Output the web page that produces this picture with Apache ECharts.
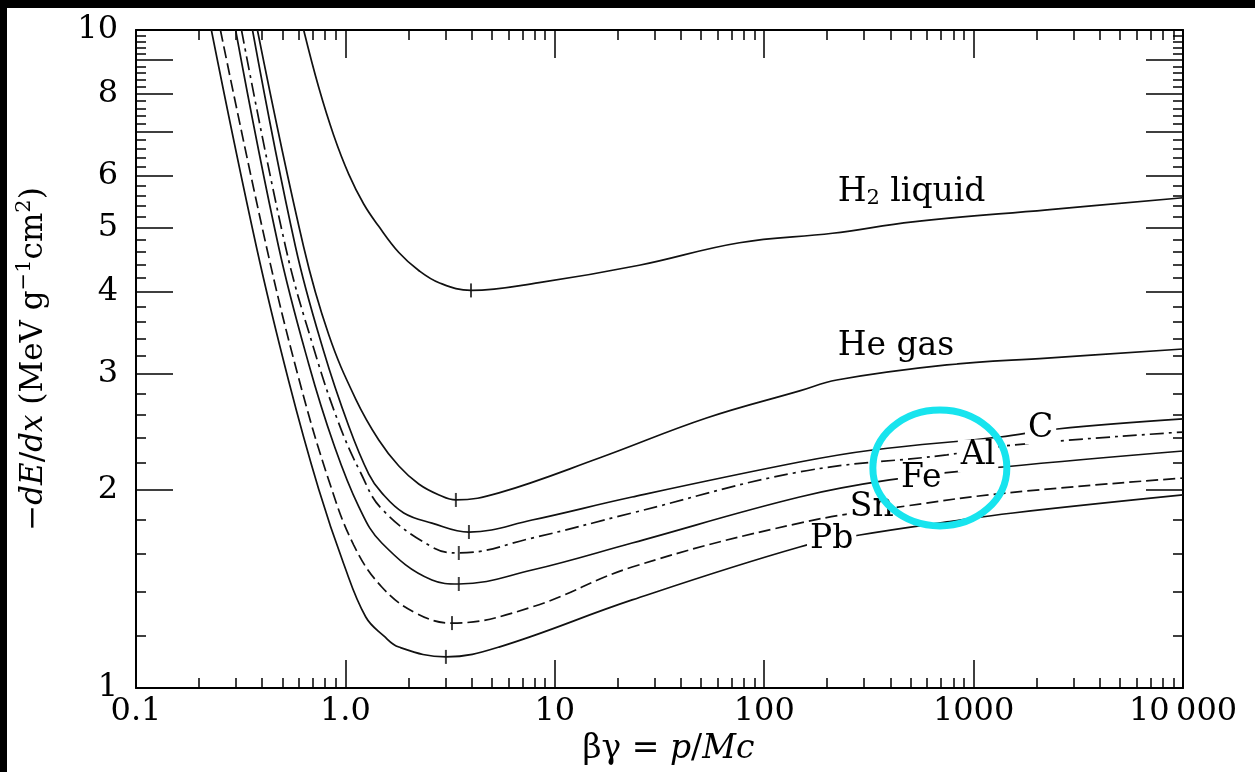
<!DOCTYPE html>
<html><head><meta charset="utf-8">
<script src="https://cdn.jsdelivr.net/npm/echarts@6/dist/echarts.min.js"></script>
<style>html,body{margin:0;padding:0;background:#fff}#c{width:1255px;height:772px}</style>
</head><body><div id="c"></div><script>
// ---- data (βγ , -dE/dx) ----
const h2Liquid=[[0.632,10],[0.745,8.19],[0.879,6.92],[1.037,6.04],[1.223,5.44],[1.443,5.03],[1.80,4.59],[2.24,4.31],[2.80,4.13],[3.98,4.02],[8.41,4.13],[25.3,4.39],[76.2,4.75],[212,4.91],[513,5.11],[2244,5.33],[10000,5.56]];
const heGas=[[0.380,10],[0.632,4.68],[0.832,3.445],[1.120,2.749],[1.443,2.382],[1.80,2.175],[2.24,2.042],[2.80,1.965],[3.37,1.931],[5.41,1.979],[16.3,2.236],[53.0,2.572],[147.6,2.828],[222,2.938],[745,3.097],[2244,3.173],[10000,3.275]];
const carbon=[[0.360,10],[0.578,4.68],[0.787,3.252],[1.037,2.501],[1.293,2.114],[1.492,1.979],[1.90,1.845],[2.59,1.781],[3.89,1.726],[7.79,1.80],[23.4,1.951],[147.6,2.205],[330,2.30],[1336,2.407],[2505,2.475],[10000,2.564]];
const aluminium=[[0.319,10],[0.518,4.68],[0.705,3.287],[0.929,2.527],[1.184,2.122],[1.492,1.871],[2.59,1.638],[3.48,1.604],[7.79,1.690],[23.4,1.845],[147.6,2.13],[745,2.261],[1542,2.34],[10000,2.449]];
const iron=[[0.299,10],[0.480,4.68],[0.668,3.108],[0.879,2.349],[1.158,1.887],[1.492,1.661],[2.59,1.459],[3.48,1.439],[7.79,1.511],[23.4,1.661],[147.6,1.951],[397,2.071],[1380,2.167],[10000,2.292]];
const tin=[[0.253,10],[0.420,4.68],[0.598,2.959],[0.832,2.071],[1.096,1.649],[1.492,1.424],[2.17,1.30],[3.23,1.255],[7.79,1.328],[23.4,1.527],[147.6,1.781],[479,1.891],[1443,1.979],[10000,2.085]];
const lead=[[0.229,10],[0.376,4.68],[0.536,2.928],[0.745,2.006],[0.982,1.543],[1.251,1.282],[1.525,1.200],[1.80,1.154],[3.02,1.115],[5.41,1.154],[23.4,1.361],[147.6,1.638],[286,1.708],[745,1.788],[1542,1.845],[10000,1.965]];
const minimumMarks=[[3.98,4.02],[3.37,1.931],[3.89,1.726],[3.48,1.604],[3.48,1.439],[3.23,1.255],[3.02,1.115]];
const curveLabels=['H{sub|2} liquid','He gas','C','Al','Fe','Sn','Pb'];
const curveLabelAt=[[217,5.67],[217,3.30],[1759,2.484],[841,2.253],[435,2.085],[248,1.884],[160,1.679]];
const circleAt=[690,2.16];
// ---- axes ----
const xMajorTicks=[0.1,1,10,100,1000,10000];
const xTickLabels=['0.1','1.0','10','100','1000','10\u2009000'];
const yMajorTicks=[2,3,4,5,6,7,8,9];
const yLabelValues=[1,2,3,4,5,6,8,10];
const yTickLabels=['1','2','3','4','5','6','8','10'];
const xMinorTicks=[];
[0.1,1,10,100,1000].forEach(d=>{for(let k=2;k<=9;k++)xMinorTicks.push(d*k);});
const yMinorTicks=[];
for(let v=12;v<100;v+=2){if(v%10!==0)yMinorTicks.push(v/10);}

const FONT='"DejaVu Serif","Liberation Serif",serif';
const near=(a,b)=>Math.abs(Math.log10(a)-Math.log10(b))<1e-6;
function xAx(pos,ticks,len,label,line){
  return {type:'log',logBase:10,min:0.1,max:10000,position:pos,
    axisLine:{show:line,onZero:false,lineStyle:{color:'#000',width:2}},
    axisTick:{show:true,inside:true,length:len,customValues:ticks,lineStyle:{color:'#000',width:1.5}},
    axisLabel:{show:label,customValues:xMajorTicks,showMinLabel:true,showMaxLabel:true,
      formatter:v=>{const i=xMajorTicks.findIndex(t=>near(t,v));return i<0?'':xTickLabels[i];},
      fontFamily:FONT,fontSize:32,color:'#000',margin:8},
    splitLine:{show:false},minorTick:{show:false},minorSplitLine:{show:false}};
}
function yAx(pos,ticks,len,label,line){
  return {type:'log',logBase:10,min:1,max:10,position:pos,
    axisLine:{show:line,onZero:false,lineStyle:{color:'#000',width:2}},
    axisTick:{show:true,inside:true,length:len,customValues:ticks,lineStyle:{color:'#000',width:1.5}},
    axisLabel:{show:label,customValues:yLabelValues,showMinLabel:true,showMaxLabel:true,
      formatter:v=>{const i=yLabelValues.findIndex(t=>near(t,v));return i<0?'':yTickLabels[i];},
      fontFamily:FONT,fontSize:32,color:'#000',margin:18},
    splitLine:{show:false},minorTick:{show:false},minorSplitLine:{show:false}};
}
const xMain=xAx('bottom',xMajorTicks,28,true,true);
xMain.name='{t|\u03b2\u03b3 = }{it|p}{t|/}{it|Mc}';
xMain.nameLocation='middle';xMain.nameGap=44;
xMain.nameTextStyle={padding:[0,0,0,18],rich:{t:{fontFamily:FONT,fontSize:33,color:'#000'},it:{fontFamily:FONT,fontSize:33,fontStyle:'italic',color:'#000'}}};
const yMain=yAx('left',yMajorTicks,37,true,true);
yMain.name='{t|\u2212}{it|dE}{t|/}{it|dx}{t| (MeV g}{sup|\u22121}{t|cm}{sup|2}{t|)}';
yMain.nameLocation='middle';yMain.nameGap=82;
yMain.nameTextStyle={rich:{t:{fontFamily:FONT,fontSize:31,color:'#000',lineHeight:40},it:{fontFamily:FONT,fontSize:31,fontStyle:'italic',color:'#000',lineHeight:40},sup:{fontFamily:FONT,fontSize:21,color:'#000',verticalAlign:'top'}}};

const lineBase={type:'line',xAxisIndex:0,yAxisIndex:0,symbol:'none',smooth:0.4,silent:true,animation:false,clip:true};
function curve(name,data,dash){return Object.assign({},lineBase,{name,data,lineStyle:{color:'#111',width:1.7,type:dash||'solid',opacity:1}});}

const option={
  backgroundColor:'#fff',animation:false,
  grid:{left:136,right:72,top:30,bottom:84,containLabel:false},
  xAxis:[xMain,xAx('bottom',xMinorTicks,10,false,false),xAx('top',xMajorTicks,28,false,true),xAx('top',xMinorTicks,10,false,false)],
  yAxis:[yMain,yAx('left',yMinorTicks,10,false,false),yAx('right',yMajorTicks,37,false,true),yAx('right',yMinorTicks,10,false,false)],
  series:[
    curve('H2 liquid',h2Liquid),
    curve('He gas',heGas),
    curve('C',carbon),
    curve('Al',aluminium,[14,5,3,5]),
    curve('Fe',iron),
    curve('Sn',tin,[12,5]),
    curve('Pb',lead),
    {type:'scatter',xAxisIndex:0,yAxisIndex:0,symbol:'rect',symbolSize:[2,14],itemStyle:{color:'#111'},data:minimumMarks,silent:true,z:3},
    {type:'scatter',xAxisIndex:0,yAxisIndex:0,symbolSize:0,itemStyle:{color:'#fff',opacity:1},silent:true,z:5,
      data:curveLabels.map((n,i)=>({name:n,value:curveLabelAt[i]})),
      label:{show:true,position:'right',distance:0,formatter:p=>p.name,fontFamily:FONT,fontSize:33,color:'#000',opacity:1,
        textBorderWidth:0,backgroundColor:'#fff',padding:[0,3],
        rich:{sub:{fontFamily:FONT,fontSize:21,color:'#000',verticalAlign:'bottom'}}},
      emphasis:{disabled:true},
      labelLayout:{hideOverlap:false}}
  ]
};
const chart=echarts.init(document.getElementById('c'),null,{renderer:'canvas'});
chart.setOption(option);
const c=chart.convertToPixel({xAxisIndex:0,yAxisIndex:0},circleAt);
chart.setOption({graphic:[
  {type:'ellipse',shape:{cx:c[0],cy:c[1],rx:67,ry:58},style:{fill:null,stroke:'#17e4ee',lineWidth:7},z:10},
  {type:'rect',shape:{x:0,y:0,width:1255,height:8},style:{fill:'#000'},z:10},
  {type:'rect',shape:{x:0,y:0,width:7,height:772},style:{fill:'#000'},z:10}
]});
</script></body></html>
